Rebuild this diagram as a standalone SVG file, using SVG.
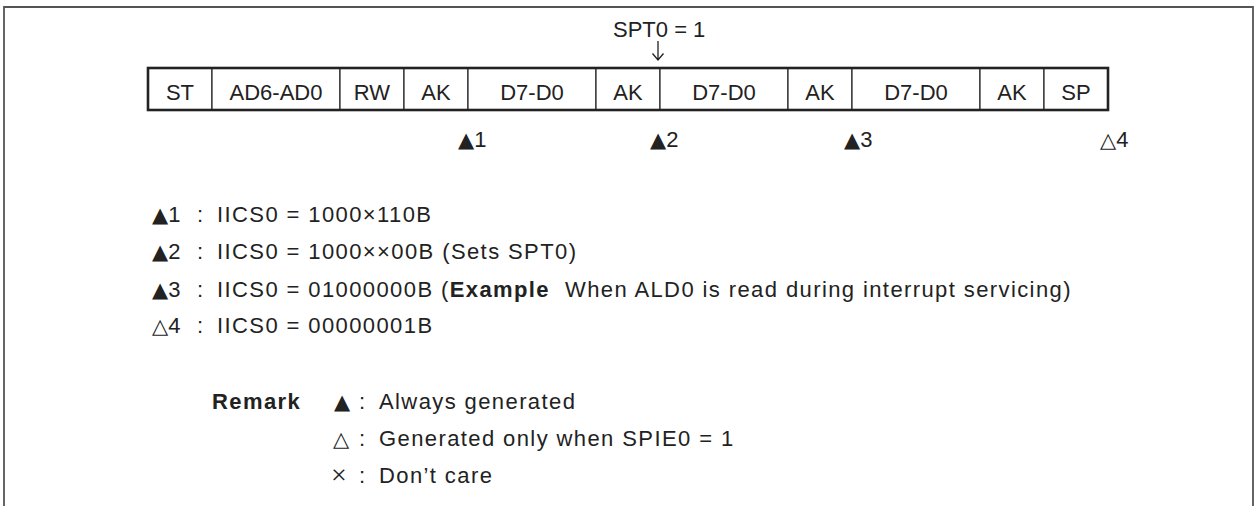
<svg xmlns="http://www.w3.org/2000/svg" width="1256" height="506" viewBox="0 0 1256 506">
<style>
  text { font-family: "Liberation Sans", Arial, sans-serif; font-size: 22px; fill: #222; }
  .c { text-anchor: middle; }
  .ls { letter-spacing: 1.4px; }
  .b { font-weight: bold; }
  .tri { font-family: "DejaVu Sans", sans-serif; font-size: 21px; letter-spacing: 0; }
  .x { font-family: "Liberation Serif", serif; font-size: 28px; }
  .cell { fill: #fff; stroke: #222; stroke-width: 1.2; }
  .outer { fill: none; stroke: #222; stroke-width: 2.6; }
  .frame { fill: none; stroke: #555; stroke-width: 1.8; }
  .arrow { fill: none; stroke: #222; stroke-width: 1.3; }
</style>
<rect width="1256" height="506" fill="#fff"/>
<path class="frame" d="M4,506 V7 H1253 V506"/>

<g id="frame-row">
  <g id="cell-st"><rect class="cell" x="148" y="68" width="64" height="42"/><text class="c" x="180" y="100">ST</text></g>
  <g id="cell-ad"><rect class="cell" x="212" y="68" width="128" height="42"/><text class="c" x="276" y="100">AD6-AD0</text></g>
  <g id="cell-rw"><rect class="cell" x="340" y="68" width="64" height="42"/><text class="c" x="372" y="100">RW</text></g>
  <g id="cell-ak1"><rect class="cell" x="404" y="68" width="64" height="42"/><text class="c" x="436" y="100">AK</text></g>
  <g id="cell-d1"><rect class="cell" x="468" y="68" width="128" height="42"/><text class="c" x="532" y="100">D7-D0</text></g>
  <g id="cell-ak2"><rect class="cell" x="596" y="68" width="64" height="42"/><text class="c" x="628" y="100">AK</text></g>
  <g id="cell-d2"><rect class="cell" x="660" y="68" width="128" height="42"/><text class="c" x="724" y="100">D7-D0</text></g>
  <g id="cell-ak3"><rect class="cell" x="788" y="68" width="64" height="42"/><text class="c" x="820" y="100">AK</text></g>
  <g id="cell-d3"><rect class="cell" x="852" y="68" width="128" height="42"/><text class="c" x="916" y="100">D7-D0</text></g>
  <g id="cell-ak4"><rect class="cell" x="980" y="68" width="64" height="42"/><text class="c" x="1012" y="100">AK</text></g>
  <g id="cell-sp"><rect class="cell" x="1044" y="68" width="64" height="42"/><text class="c" x="1076" y="100">SP</text></g>
  <rect class="outer" x="148" y="68" width="960" height="42"/>
</g>

<g id="spt0-label">
  <text x="613" y="37">SPT0 = 1</text>
</g>
<g id="connectors">
  <path class="arrow" d="M658,41 V60 M652.5,53.5 L658,60 L663.5,53.5"/>
</g>

<g id="markers">
  <text x="458" y="147"><tspan class="tri">▲</tspan>1</text>
  <text x="650" y="147"><tspan class="tri">▲</tspan>2</text>
  <text x="844" y="147"><tspan class="tri">▲</tspan>3</text>
  <text x="1100" y="147"><tspan class="tri">△</tspan>4</text>
</g>

<g id="legend">
  <text x="152" y="222"><tspan class="tri">▲</tspan>1</text><text x="197" y="222">:</text>
  <text class="ls" x="217" y="222">IICS0 = 1000×110B</text>
  <text x="152" y="259"><tspan class="tri">▲</tspan>2</text><text x="197" y="259">:</text>
  <text class="ls" x="217" y="259">IICS0 = 1000××00B (Sets SPT0)</text>
  <text x="152" y="297"><tspan class="tri">▲</tspan>3</text><text x="197" y="297">:</text>
  <text class="ls" x="217" y="297">IICS0 = 01000000B (<tspan class="b">Example</tspan>&#160; When ALD0 is read during interrupt servicing)</text>
  <text x="152" y="333"><tspan class="tri">△</tspan>4</text><text x="197" y="333">:</text>
  <text class="ls" x="217" y="333">IICS0 = 00000001B</text>
</g>

<g id="remark">
  <text class="b ls" x="212" y="409">Remark</text>
  <text x="334" y="409"><tspan class="tri">▲</tspan></text><text x="359" y="409">:</text>
  <text class="ls" x="379" y="409">Always generated</text>
  <text x="333" y="446"><tspan class="tri">△</tspan></text><text x="359" y="446">:</text>
  <text class="ls" x="379" y="446">Generated only when SPIE0 = 1</text>
  <text class="x" x="331" y="484">×</text><text x="359" y="483">:</text>
  <text class="ls" x="379" y="483">Don’t care</text>
</g>
</svg>
